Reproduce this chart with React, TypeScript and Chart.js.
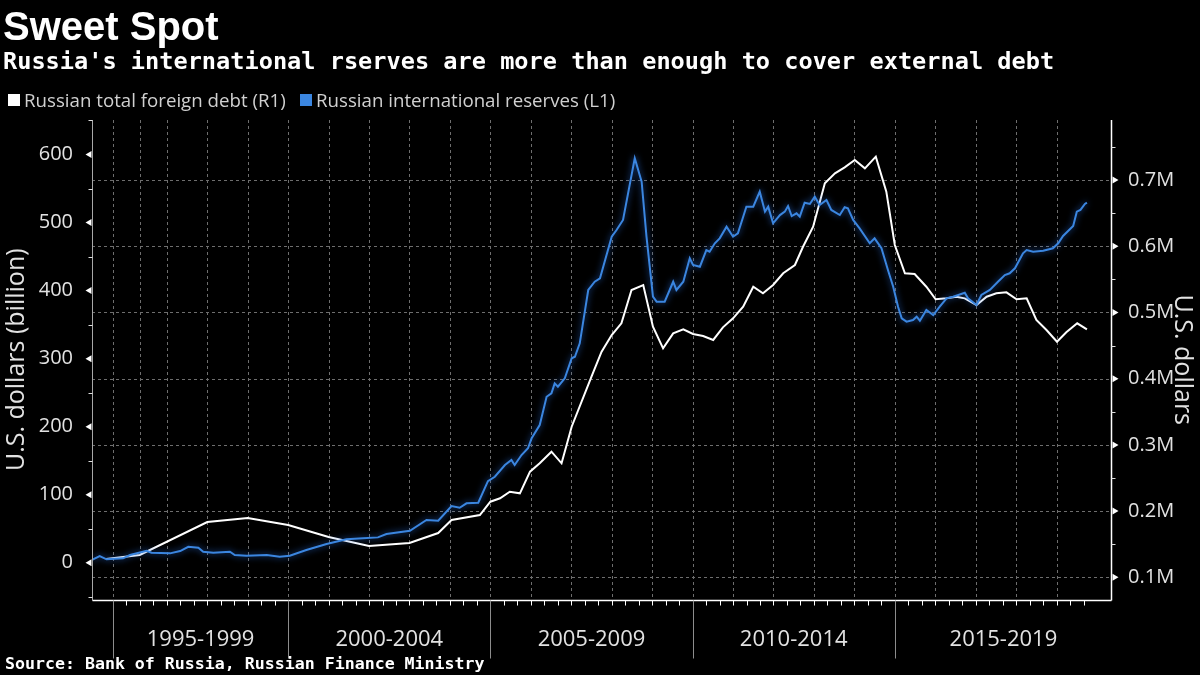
import React, { useEffect, useRef } from "react";
import { Chart, registerables } from "chart.js";

Chart.register(...registerables);

// ---- Data ----
// Russian international reserves, USD billion (left axis)
const reserveYears = [
  1995.14, 1995.34, 1995.51, 1995.92, 1996.09, 1996.5, 1996.62, 1997.08, 1997.33, 1997.53,
  1997.78, 1997.9, 1998.15, 1998.56, 1998.68, 1998.97, 1999.47, 1999.79, 2000.04, 2000.45,
  2000.95, 2001.44, 2001.85, 2002.22, 2002.43, 2003.01, 2003.42, 2003.71, 2004.04, 2004.24,
  2004.41, 2004.7, 2004.94, 2005.11, 2005.36, 2005.52, 2005.6, 2005.77, 2005.93, 2006.02,
  2006.22, 2006.39, 2006.51, 2006.59, 2006.67, 2006.84, 2007.01, 2007.09, 2007.21, 2007.42,
  2007.58, 2007.71, 2008.0, 2008.12, 2008.28, 2008.57, 2008.74, 2008.86, 2009.02, 2009.11,
  2009.31, 2009.52, 2009.6, 2009.77, 2009.93, 2010.01, 2010.18, 2010.34, 2010.42, 2010.55,
  2010.67, 2010.84, 2011.0, 2011.12, 2011.33, 2011.5, 2011.66, 2011.79, 2011.87, 2011.99,
  2012.16, 2012.28, 2012.36, 2012.45, 2012.57, 2012.65, 2012.77, 2012.9, 2013.02, 2013.14,
  2013.31, 2013.43, 2013.64, 2013.76, 2013.84, 2013.97, 2014.13, 2014.38, 2014.5, 2014.67,
  2014.83, 2014.96, 2015.08, 2015.17, 2015.29, 2015.45, 2015.54, 2015.62, 2015.78, 2015.95,
  2016.11, 2016.28, 2016.44, 2016.57, 2016.73, 2016.81, 2017.02, 2017.14, 2017.35, 2017.55,
  2017.72, 2017.84, 2017.97, 2018.17, 2018.26, 2018.42, 2018.67, 2018.91, 2019.04, 2019.16,
  2019.41, 2019.5, 2019.59, 2019.7, 2019.75,
];
const reserveValues = [
  4, 9.8, 5, 6.5, 11.3, 17.6, 14.7, 13.8, 17.2, 23.5,
  22, 16.2, 14.7, 16.2, 11.3, 10.3, 11.3, 8.8, 10.3, 18.7,
  27.5, 34.4, 35.9, 37.3, 42.2, 47, 62.8, 61.7, 83.3, 80.8,
  87.3, 88.2, 120, 126.4, 143.6, 151, 143.6, 158.3, 168.2, 182.9,
  202.4, 244, 249, 263.7, 258.7, 271, 300.5, 302.8, 322.5, 400.9,
  413, 418, 479.2, 489, 503.8, 594.4, 560, 479.2, 391, 383.7,
  383.7, 413, 400.9, 413, 447.5, 437.6, 435.1, 459.6, 457.2, 469.5,
  476.8, 493.9, 479.2, 484.2, 523.3, 523.3, 545.4, 516, 523.3, 498.9,
  511, 516, 524.3, 509.6, 513.6, 508.6, 529.2, 527.3, 538, 525.8,
  533.2, 518.5, 511.1, 522.4, 520.9, 503.8, 491.5, 469.5, 476.8, 462.2,
  430.2, 405.7, 376.3, 359.3, 354.3, 356.8, 361.6, 355.7, 371.5, 364.1,
  376.3, 388.7, 391, 393.5, 396.8, 388.7, 378.9, 393.5, 400.9, 413,
  422.9, 425.4, 432.7, 454.8, 459.6, 457.2, 458.6, 462.2, 469.5, 480.2,
  494.9, 516, 518.5, 527.3, 529.2,
];

// Russian total foreign debt, USD billion (right axis, labelled in millions "M")
const debtYears = [
  1995.5, 1996.33, 1998.0, 1999.0, 2000.0, 2001.0, 2002.0, 2003.0, 2003.71, 2004.04,
  2004.74, 2005.0, 2005.24, 2005.48, 2005.73, 2005.98, 2006.22, 2006.51, 2006.76, 2007.01,
  2007.5, 2007.75, 2008.0, 2008.24, 2008.49, 2008.78, 2009.02, 2009.27, 2009.52, 2009.77,
  2010.01, 2010.26, 2010.51, 2010.75, 2011.0, 2011.25, 2011.5, 2011.74, 2011.99, 2012.24,
  2012.53, 2012.73, 2012.98, 2013.27, 2013.52, 2013.76, 2014.01, 2014.26, 2014.53, 2014.79,
  2015.0, 2015.25, 2015.49, 2015.78, 2016.01, 2016.28, 2016.52, 2016.73, 2017.02, 2017.27,
  2017.51, 2017.76, 2018.01, 2018.26, 2018.5, 2018.75, 2019.01, 2019.24, 2019.51, 2019.75,
];
const debtValues = [
  127.6, 133.7, 183.5, 189.6, 179, 160.9, 147.3, 151.8, 166.9, 186.5,
  194.1, 214.2, 219.3, 229.3, 226.8, 259.5, 272.2, 289.7, 272.2, 327.4,
  402.9, 440.7, 465.9, 483.6, 533.9, 541.4, 478.4, 445.8, 468.4, 474.5,
  467.4, 464.4, 458.4, 477.5, 491.1, 508.6, 538.8, 528.9, 541.4, 559.1,
  571.6, 599.2, 629.4, 695, 710.1, 719.1, 730.2, 717.6, 735.2, 682.3,
  601.8, 559.1, 558, 538.8, 519.8, 521.3, 523.7, 521.3, 511.2, 523.7,
  528.9, 530.4, 519.8, 521.3, 488.6, 473.4, 455.8, 470, 483.6, 474.5,
];

// Axis ticks and labels
const leftTicks = [0, 100, 200, 300, 400, 500, 600];
const leftMinorTicks = [-50, 50, 150, 250, 350, 450, 550, 650];
const rightTicks = [100, 200, 300, 400, 500, 600, 700];
const rightMinorTicks = [150, 250, 350, 450, 550, 650, 750];
const periodLabels = ["1995-1999", "2000-2004", "2005-2009", "2010-2014", "2015-2019"];
const periodStarts = [1995.67, 2000, 2005, 2010, 2015];
const gridYears = [
  1995.67, 1996.33, 1997, 1998, 1999, 2000, 2001, 2002, 2003, 2004, 2005, 2006, 2007,
  2008, 2009, 2010, 2011, 2012, 2013, 2014, 2015, 2016, 2017, 2018, 2019,
];
const xMinorTickStart = 1995 + 2 / 3;
const xMinorTickEnd = 2019 + 2 / 3;

const X_MIN = 1995.15;
const X_MAX = 2020.37;
const L_MIN = -54;
const L_MAX = 650.7;
const R_MIN = 66.5;
const R_MAX = 790.6;

const BLUE = "#3b86e0";
const TEXT = "#e2e2e2";

const decorPlugin = {
  id: "decor",
  beforeDatasetsDraw(chart: any) {
    const { ctx, chartArea: a, scales } = chart;
    const x = scales.x;
    const yR = scales.yR;
    ctx.save();
    ctx.strokeStyle = "#6e6e6e";
    ctx.lineWidth = 1;
    ctx.setLineDash([3, 3]);
    gridYears.forEach((g) => {
      const px = Math.round(x.getPixelForValue(g)) + 0.5;
      ctx.beginPath();
      ctx.moveTo(px, a.top);
      ctx.lineTo(px, a.bottom);
      ctx.stroke();
    });
    rightTicks.forEach((v) => {
      const py = Math.round(yR.getPixelForValue(v)) + 0.5;
      ctx.beginPath();
      ctx.moveTo(a.left, py);
      ctx.lineTo(a.right, py);
      ctx.stroke();
    });
    ctx.restore();
  },
  beforeDatasetDraw(chart: any, args: any) {
    if (args.index === 0) {
      chart.ctx.save();
      chart.ctx.shadowColor = "rgba(40,110,220,0.8)";
      chart.ctx.shadowBlur = 6;
    }
  },
  afterDatasetDraw(chart: any, args: any) {
    if (args.index === 0) chart.ctx.restore();
  },
  afterDraw(chart: any) {
    const { ctx, chartArea: a, scales } = chart;
    const x = scales.x;
    const yL = scales.yL;
    const yR = scales.yR;
    const left = Math.round(a.left) + 0.5;
    const right = Math.round(a.right) - 0.5;
    const bottom = Math.round(a.bottom) + 0.5;
    ctx.save();
    ctx.setLineDash([]);
    ctx.lineWidth = 1;
    // left axis
    ctx.strokeStyle = "#a8a8a8";
    ctx.beginPath();
    ctx.moveTo(left, a.top);
    ctx.lineTo(left, bottom);
    ctx.stroke();
    // right + bottom axis
    ctx.strokeStyle = "#ffffff";
    ctx.lineWidth = 1.5;
    ctx.beginPath();
    ctx.moveTo(right, a.top);
    ctx.lineTo(right, bottom);
    ctx.moveTo(left, bottom);
    ctx.lineTo(right, bottom);
    ctx.stroke();
    ctx.lineWidth = 1;
    // triangles & minor ticks
    ctx.fillStyle = "#ffffff";
    ctx.strokeStyle = "#dddddd";
    leftTicks.forEach((v) => {
      const py = yL.getPixelForValue(v);
      ctx.beginPath();
      ctx.moveTo(left - 7, py);
      ctx.lineTo(left - 1, py - 3.5);
      ctx.lineTo(left - 1, py + 3.5);
      ctx.closePath();
      ctx.fill();
    });
    leftMinorTicks.forEach((v) => {
      const py = Math.round(yL.getPixelForValue(v)) + 0.5;
      ctx.beginPath();
      ctx.moveTo(left - 4, py);
      ctx.lineTo(left, py);
      ctx.stroke();
    });
    rightTicks.forEach((v) => {
      const py = yR.getPixelForValue(v);
      ctx.beginPath();
      ctx.moveTo(right + 7, py);
      ctx.lineTo(right + 1, py - 3.5);
      ctx.lineTo(right + 1, py + 3.5);
      ctx.closePath();
      ctx.fill();
    });
    rightMinorTicks.forEach((v) => {
      const py = Math.round(yR.getPixelForValue(v)) + 0.5;
      ctx.beginPath();
      ctx.moveTo(right, py);
      ctx.lineTo(right + 4, py);
      ctx.stroke();
    });
    // x minor ticks every 4 months
    ctx.strokeStyle = "#ffffff";
    for (let t = xMinorTickStart; t <= xMinorTickEnd + 0.001; t += 1 / 3) {
      const px = Math.round(x.getPixelForValue(t)) + 0.5;
      ctx.beginPath();
      ctx.moveTo(px, bottom);
      ctx.lineTo(px, bottom + 5);
      ctx.stroke();
    }
    // period separators
    ctx.strokeStyle = "#8c8c8c";
    periodStarts.forEach((s) => {
      const px = Math.round(x.getPixelForValue(s)) + 0.5;
      ctx.beginPath();
      ctx.moveTo(px, bottom);
      ctx.lineTo(px, bottom + 58);
      ctx.stroke();
    });
    // period labels
    ctx.fillStyle = TEXT;
    ctx.font = "22px 'Open Sans'";
    ctx.textAlign = "center";
    ctx.textBaseline = "middle";
    periodLabels.forEach((lab, i) => {
      const s = x.getPixelForValue(periodStarts[i]);
      const e = i + 1 < periodStarts.length ? x.getPixelForValue(periodStarts[i + 1]) : a.right;
      ctx.fillText(lab, (s + e) / 2, 639.5);
    });
    ctx.restore();
  },
};

export default function App() {
  const canvasRef = useRef<HTMLCanvasElement>(null);

  useEffect(() => {
    const canvas = canvasRef.current;
    if (!canvas) return;
    const chart = new Chart(canvas, {
      type: "line",
      data: {
        datasets: [
          {
            label: "Russian international reserves (L1)",
            data: reserveYears.map((yr, i) => ({ x: yr, y: reserveValues[i] })),
            yAxisID: "yL",
            borderColor: BLUE,
            borderWidth: 2,
            pointRadius: 0,
            tension: 0,
          },
          {
            label: "Russian total foreign debt (R1)",
            data: debtYears.map((yr, i) => ({ x: yr, y: debtValues[i] })),
            yAxisID: "yR",
            borderColor: "#ffffff",
            borderWidth: 2,
            pointRadius: 0,
            tension: 0,
          },
        ],
      },
      options: {
        responsive: false,
        animation: false,
        devicePixelRatio: 1,
        layout: { padding: { top: 120, bottom: 75.5, left: 0, right: 0 } },
        plugins: {
          legend: { display: false },
          tooltip: { enabled: false },
        },
        scales: {
          x: { type: "linear", min: X_MIN, max: X_MAX, display: false },
          yL: {
            type: "linear",
            position: "left",
            min: L_MIN,
            max: L_MAX,
            afterFit: (s: any) => {
              s.width = 92;
            },
            afterBuildTicks: (s: any) => {
              s.ticks = leftTicks.map((v) => ({ value: v }));
            },
            grid: { display: false },
            border: { display: false },
            ticks: {
              color: TEXT,
              font: { family: "'Open Sans'", size: 20 },
              padding: 11,
            },
            title: {
              display: true,
              text: "U.S. dollars (billion)",
              color: TEXT,
              font: { family: "'Open Sans'", size: 25, lineHeight: 1.2 },
              padding: { top: 2, bottom: 0 },
            },
          },
          yR: {
            type: "linear",
            position: "right",
            min: R_MIN,
            max: R_MAX,
            afterFit: (s: any) => {
              s.width = 88;
            },
            afterBuildTicks: (s: any) => {
              s.ticks = rightTicks.map((v) => ({ value: v }));
            },
            grid: { display: false },
            border: { display: false },
            ticks: {
              color: TEXT,
              font: { family: "'Open Sans'", size: 20 },
              padding: 8,
              callback: (v: any) => (Number(v) / 1000).toFixed(1) + "M",
            },
            title: {
              display: true,
              text: "U.S. dollars",
              color: TEXT,
              font: { family: "'Open Sans'", size: 25, lineHeight: 1.2 },
              padding: { top: 2.5, bottom: 0 },
            },
          },
        },
      },
      plugins: [decorPlugin],
    } as any);
    return () => chart.destroy();
  }, []);

  const legendText: React.CSSProperties = {
    position: "absolute",
    top: 90,
    fontFamily: "'Open Sans'",
    fontSize: 18.7,
    lineHeight: "19px",
    color: "#d0d0d0",
    whiteSpace: "nowrap",
  };
  const square = (left: number, color: string): React.CSSProperties => ({
    position: "absolute",
    left,
    top: 94,
    width: 12,
    height: 12,
    background: color,
  });

  return (
    <div
      style={{
        position: "fixed",
        left: 0,
        top: 0,
        width: 1200,
        height: 675,
        background: "#000",
        overflow: "hidden",
      }}
    >
      <canvas
        ref={canvasRef}
        width={1200}
        height={675}
        style={{ position: "absolute", left: 0, top: 0, width: 1200, height: 675 }}
      />
      <div
        style={{
          position: "absolute",
          left: 3,
          top: 6,
          fontFamily: "'Liberation Sans'",
          fontWeight: "bold",
          fontSize: 40,
          lineHeight: "40px",
          color: "#ffffff",
          whiteSpace: "nowrap",
        }}
      >
        Sweet Spot
      </div>
      <div
        style={{
          position: "absolute",
          left: 3,
          top: 49,
          fontFamily: "'DejaVu Sans Mono'",
          fontWeight: "bold",
          fontSize: 23.6,
          lineHeight: "24px",
          color: "#ffffff",
          whiteSpace: "nowrap",
        }}
      >
        Russia's international rserves are more than enough to cover external debt
      </div>
      <div style={square(8, "#ffffff")} />
      <div style={{ ...legendText, left: 24 }}>Russian total foreign debt (R1)</div>
      <div style={square(300, BLUE)} />
      <div style={{ ...legendText, left: 316 }}>Russian international reserves (L1)</div>
      <div
        style={{
          position: "absolute",
          left: 5,
          top: 655,
          fontFamily: "'DejaVu Sans Mono'",
          fontWeight: "bold",
          fontSize: 16.6,
          lineHeight: "17px",
          color: "#ffffff",
          whiteSpace: "nowrap",
        }}
      >
        Source: Bank of Russia, Russian Finance Ministry
      </div>
    </div>
  );
}
